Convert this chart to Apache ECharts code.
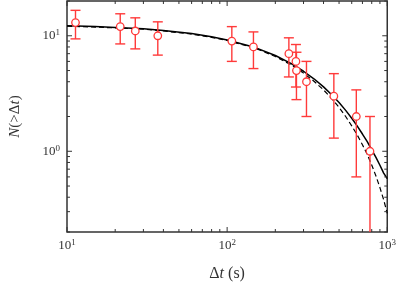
<!DOCTYPE html>
<html><head><meta charset="utf-8">
<script src="https://cdn.jsdelivr.net/npm/echarts@6/dist/echarts.min.js"></script>
<style>html,body{margin:0;padding:0;background:#fff;}#c{width:399px;height:289px;}</style>
</head><body><div id="c"></div>
<script>
// Observed data points: Δt (s) and N(>Δt)
const dtValues = [11.3, 21.5, 26.7, 36.9, 107, 146, 243, 269, 271, 313, 464, 641, 780];
const nValues  = [13, 12, 11, 10, 9, 8, 7, 6, 5, 4, 3, 2, 1];
// error bar bounds
const errLow  = [9.4, 8.5, 7.7, 6.8, 6.0, 5.2, 4.4, 3.6, 2.8, 2.0, 1.3, 0.6, 0];
const errHigh = [16.6, 15.5, 14.3, 13.2, 12.0, 10.8, 9.6, 8.4, 7.2, 6.0, 4.7, 3.4, 2.0];

// model curves
const curveX      = [10, 15, 20, 30, 40, 60, 80, 100, 150, 200, 250, 300, 350, 400, 450, 500, 550, 600, 650, 700, 750, 800, 850, 900, 950, 1000];
const solidCurve  = [12.2, 12.0, 11.8, 11.5, 11.1, 10.45, 9.8, 9.2, 7.9, 6.75, 5.77, 4.93, 4.22, 3.61, 3.09, 2.64, 2.26, 1.93, 1.65, 1.41, 1.21, 1.03, 0.885, 0.757, 0.647, 0.58];
const dashedCurve = [12.1, 11.9, 11.7, 11.4, 11.0, 10.35, 9.7, 9.1, 7.8, 6.62, 5.62, 4.75, 4.02, 3.4, 2.86, 2.4, 2.0, 1.66, 1.38, 1.14, 0.94, 0.76, 0.61, 0.485, 0.38, 0.29];

// axis ranges and tick values
const xMin = 10, xMax = 1000, yMin = 0.2, yMax = 20;
const xMajorTicks = [10, 100, 1000];
const xMinorTicks = [20,30,40,50,60,70,80,90,200,300,400,500,600,700,800,900];
const yMajorTicks = [1, 10];
const yMinorTicks = [0.2,0.3,0.4,0.5,0.6,0.7,0.8,0.9,2,3,4,5,6,7,8,9,20];

const RED = '#ff3a3a';
const AX = '#333';
const SERIF = 'Liberation Serif';

const chart = echarts.init(document.getElementById('c'), null, {renderer: 'canvas'});

function powLabel(v) {
  const e = Math.log10(v);
  const r = Math.round(e);
  if (Math.abs(e - r) > 1e-6) return '';
  return '{b|10}{s|' + r + '}';
}
const richLab = {
  b: {fontFamily: SERIF, fontSize: 13, color: '#333'},
  s: {fontFamily: SERIF, fontSize: 9, color: '#333', verticalAlign: 'top', padding: [0,0,6,0]}
};

const xTickData = xMajorTicks.map(v => [v, yMin, 1]).concat(xMinorTicks.map(v => [v, yMin, 0]));
const yTickData = yMajorTicks.map(v => [xMin, v, 1]).concat(yMinorTicks.map(v => [xMin, v, 0]));
const errData = dtValues.map((x, i) => [x, nValues[i], errLow[i], errHigh[i]]);

const option = {
  animation: false,
  textStyle: {fontFamily: SERIF},
  grid: {left: 57, right: 8, top: 1, bottom: 57, show: true, borderColor: AX, borderWidth: 1.5, backgroundColor: '#fff'},
  xAxis: {
    type: 'log', logBase: 10, min: xMin, max: xMax,
    axisLine: {show: false}, axisTick: {show: false}, splitLine: {show: false}, minorTick: {show: false},
    axisLabel: {formatter: powLabel, rich: richLab, fontFamily: SERIF, fontSize: 13, margin: 6, showMinLabel: true, showMaxLabel: true},
    name: '{d|Δ}{i|t}{d| (s)}', nameLocation: 'middle', nameGap: 34,
    nameTextStyle: {fontFamily: SERIF, fontSize: 16, rich: {
      d: {fontFamily: SERIF, fontSize: 16, color: '#333'},
      i: {fontFamily: SERIF, fontSize: 16, fontStyle: 'italic', color: '#333'}
    }}
  },
  yAxis: {
    type: 'log', logBase: 10, min: yMin, max: yMax,
    axisLine: {show: false}, axisTick: {show: false}, splitLine: {show: false}, minorTick: {show: false},
    axisLabel: {formatter: powLabel, rich: richLab, fontFamily: SERIF, fontSize: 13, margin: 7, showMinLabel: false, showMaxLabel: false},
    name: '{i|N}{d|(>Δ}{i|t}{d|)}', nameLocation: 'middle', nameGap: 44, nameRotate: 90,
    nameTextStyle: {fontFamily: SERIF, fontSize: 15, rich: {
      d: {fontFamily: SERIF, fontSize: 15, color: '#333'},
      i: {fontFamily: SERIF, fontSize: 15, fontStyle: 'italic', color: '#333'}
    }}
  },
  series: [
    {
      type: 'line', data: curveX.map((x, i) => [x, solidCurve[i]]), showSymbol: false, symbol: 'none',
      lineStyle: {color: '#000', width: 1.5}, z: 3, silent: true
    },
    {
      type: 'line', data: curveX.map((x, i) => [x, dashedCurve[i]]), showSymbol: false, symbol: 'none',
      lineStyle: {color: '#000', width: 1.2, type: [5, 3]}, z: 3, silent: true
    },
    {
      type: 'custom', coordinateSystem: 'cartesian2d', clip: true, z: 4, silent: true,
      data: errData,
      renderItem: function (params, api) {
        const x = api.value(0), lo = api.value(2), hi = api.value(3);
        const pHi = api.coord([x, hi]);
        const pLo = api.coord([x, lo > 0 ? lo : yMin]);
        const w = 5;
        const st = {stroke: RED, lineWidth: 1.4};
        const children = [
          {type: 'line', shape: {x1: pHi[0], y1: pHi[1], x2: pLo[0], y2: pLo[1]}, style: st},
          {type: 'line', shape: {x1: pHi[0] - w, y1: pHi[1], x2: pHi[0] + w, y2: pHi[1]}, style: st}
        ];
        if (lo > 0) children.push({type: 'line', shape: {x1: pLo[0] - w, y1: pLo[1], x2: pLo[0] + w, y2: pLo[1]}, style: st});
        return {type: 'group', children: children};
      }
    },
    {
      type: 'scatter', data: dtValues.map((x, i) => [x, nValues[i]]), symbol: 'circle', symbolSize: 7.5,
      itemStyle: {color: '#fff', borderColor: RED, borderWidth: 1.3, opacity: 1}, z: 5, silent: true
    },
    {
      type: 'custom', coordinateSystem: 'cartesian2d', clip: false, z: 6, silent: true,
      data: xTickData,
      renderItem: function (params, api) {
        const v = api.value(0), major = api.value(2);
        const pb = api.coord([v, yMin]), pt = api.coord([v, yMax]);
        const len = major ? 5 : 3;
        const st = {stroke: AX, lineWidth: 1};
        return {type: 'group', children: [
          {type: 'line', shape: {x1: pb[0], y1: pb[1], x2: pb[0], y2: pb[1] - len}, style: st},
          {type: 'line', shape: {x1: pt[0], y1: pt[1], x2: pt[0], y2: pt[1] + len}, style: st}
        ]};
      }
    },
    {
      type: 'custom', coordinateSystem: 'cartesian2d', clip: false, z: 6, silent: true,
      data: yTickData,
      renderItem: function (params, api) {
        const v = api.value(1), major = api.value(2);
        const pl = api.coord([xMin, v]), pr = api.coord([xMax, v]);
        const len = major ? 5 : 3;
        const st = {stroke: AX, lineWidth: 1};
        return {type: 'group', children: [
          {type: 'line', shape: {x1: pl[0], y1: pl[1], x2: pl[0] + len, y2: pl[1]}, style: st},
          {type: 'line', shape: {x1: pr[0], y1: pr[1], x2: pr[0] - len, y2: pr[1]}, style: st}
        ]};
      }
    }
  ]
};
chart.setOption(option);
</script>
</body></html>
